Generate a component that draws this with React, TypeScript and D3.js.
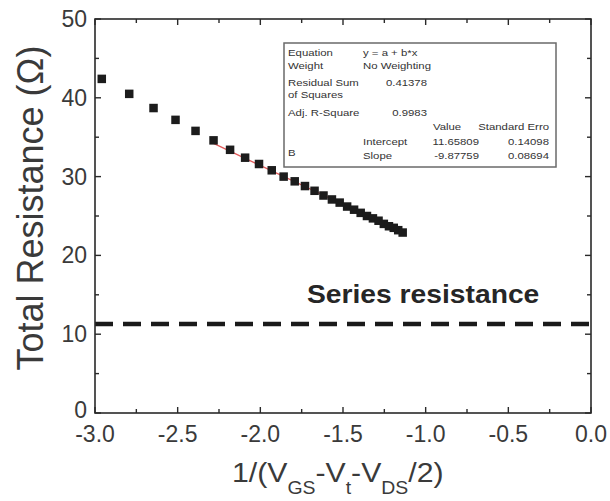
import React from 'react';
import * as d3 from 'd3';

const xValues = [-2.959, -2.793, -2.646, -2.513, -2.392, -2.283, -2.183, -2.092, -2.008, -1.931, -1.859, -1.792, -1.730, -1.672, -1.618, -1.567, -1.520, -1.475, -1.433, -1.393, -1.355, -1.319, -1.285, -1.253, -1.222, -1.193, -1.166, -1.139];
const yValues = [42.4, 40.5, 38.7, 37.2, 35.8, 34.6, 33.4, 32.4, 31.6, 30.8, 30.0, 29.4, 28.8, 28.2, 27.6, 27.1, 26.7, 26.2, 25.8, 25.4, 25.0, 24.7, 24.4, 24.0, 23.7, 23.5, 23.2, 22.9];
const fitIntercept = 11.65809;
const fitSlope = -9.87759;
const fitStart = -2.283;
const fitEnd = -1.139;
const seriesResistance = 11.3;
const seriesLabel = 'Series resistance';
const xTickValues = [-3.0, -2.5, -2.0, -1.5, -1.0, -0.5, 0.0];
const xMinorTicks = [-2.75, -2.25, -1.75, -1.25, -0.75, -0.25];
const yTickValues = [0, 10, 20, 30, 40, 50];
const yMinorTicks = [5, 15, 25, 35, 45];
const yTitle = 'Total Resistance (Ω)';

const tableLeft = ['Equation', 'Weight', 'Residual Sum', 'of Squares', 'Adj. R-Square', 'B'];
const tableMid = ['y = a + b*x', 'No Weighting', 'Intercept', 'Slope'];
const tableStats = ['0.41378', '0.9983'];
const tableHeader = ['Value', 'Standard Erro'];
const tableValues = ['11.65809', '-9.87759'];
const tableErrors = ['0.14098', '0.08694'];

const FONT = '"Liberation Sans", Arial, Helvetica, sans-serif';

function T({ x, y, size, sx = 1, anchor = 'start', weight = 'normal', fill = '#333', children }: any) {
  return (
    <text
      transform={`translate(${x},${y}) scale(${sx},1)`}
      fontSize={size}
      fontFamily={FONT}
      fontWeight={weight}
      textAnchor={anchor}
      fill={fill}
    >
      {children}
    </text>
  );
}

export default function App() {
  const W = 610, H = 501;
  const x = d3.scaleLinear().domain([-3, 0]).range([95, 591]);
  const y = d3.scaleLinear().domain([0, 50]).range([413, 19]);
  const [x0, x1] = x.range();
  const [y0, y1] = y.range();
  const axisColor = '#2a2a2a';
  const textColor = '#3a3a3a';
  const majorLen = 6;
  const minorLen = 4;

  const fitLine = d3.line<number>()
    .x((d) => x(d))
    .y((d) => y(fitIntercept + fitSlope * d))([fitStart, fitEnd]);

  const sq = 8.5;

  const tb = { x: 284, y: 43, w: 272, h: 124 };
  const rowY = [56, 69, 86, 98, 116, 156];
  const midY = [56, 69, 145, 159];
  const statY = [86, 116];
  const fs = 9.8;
  const tsx = 1.16;

  return (
    <svg width={W} height={H} style={{ position: 'absolute', left: 0, top: 0, background: '#fff' }}>
      <rect x={0} y={0} width={W} height={H} fill="#fff" />
      <path d={fitLine || ''} stroke="#e25a5a" strokeWidth={1.3} fill="none" />
      {xValues.map((xv, i) => (
        <rect key={i} x={x(xv) - sq / 2} y={y(yValues[i]) - sq / 2} width={sq} height={sq} fill="#1c1c1c" />
      ))}
      <line x1={x0} x2={x1 + 6} y1={y(seriesResistance)} y2={y(seriesResistance)} stroke="#1a1a1a" strokeWidth={4.5} strokeDasharray="18,10" />
      <T x={307} y={303} size={25} sx={1.13} weight="bold" fill="#262626">{seriesLabel}</T>

      <rect x={x0} y={y1} width={x1 - x0} height={y0 - y1} fill="none" stroke={axisColor} strokeWidth={1.6} />
      {xTickValues.map((t) => (
        <g key={'xt' + t}>
          <line x1={x(t)} x2={x(t)} y1={y0} y2={y0 - majorLen} stroke={axisColor} strokeWidth={1.4} />
          <line x1={x(t)} x2={x(t)} y1={y1} y2={y1 + majorLen} stroke={axisColor} strokeWidth={1.4} />
          <T x={x(t)} y={442} size={23} anchor="middle" fill={textColor}>{t.toFixed(1)}</T>
        </g>
      ))}
      {xMinorTicks.map((t) => (
        <g key={'xm' + t}>
          <line x1={x(t)} x2={x(t)} y1={y0} y2={y0 - minorLen} stroke={axisColor} strokeWidth={1.4} />
          <line x1={x(t)} x2={x(t)} y1={y1} y2={y1 + minorLen} stroke={axisColor} strokeWidth={1.4} />
        </g>
      ))}
      {yTickValues.map((t) => (
        <g key={'yt' + t}>
          <line x1={x0} x2={x0 + majorLen} y1={y(t)} y2={y(t)} stroke={axisColor} strokeWidth={1.4} />
          <line x1={x1} x2={x1 - majorLen} y1={y(t)} y2={y(t)} stroke={axisColor} strokeWidth={1.4} />
          <T x={87} y={y(t) + (t === 0 ? 5 : 8)} size={23} anchor="end" fill={textColor}>{String(t)}</T>
        </g>
      ))}
      {yMinorTicks.map((t) => (
        <g key={'ym' + t}>
          <line x1={x0} x2={x0 + minorLen} y1={y(t)} y2={y(t)} stroke={axisColor} strokeWidth={1.4} />
          <line x1={x1} x2={x1 - minorLen} y1={y(t)} y2={y(t)} stroke={axisColor} strokeWidth={1.4} />
        </g>
      ))}

      <text transform="translate(232,482) scale(1.08,1)" fontFamily={FONT} fontSize={28} fill={textColor}>
        <tspan>1/(V</tspan>
        <tspan fontSize={18} dy={12}>GS</tspan>
        <tspan dy={-12}>-V</tspan>
        <tspan fontSize={18} dy={12}>t</tspan>
        <tspan dy={-12}>-V</tspan>
        <tspan fontSize={18} dy={12}>DS</tspan>
        <tspan dy={-12}>/2)</tspan>
      </text>
      <text transform="translate(43,208) rotate(-90)" fontFamily={FONT} fontSize={36} textAnchor="middle" fill={textColor}>{yTitle}</text>

      <rect x={tb.x} y={tb.y} width={tb.w} height={tb.h} fill="#fff" stroke="#6a6a6a" strokeWidth={1.5} />
      {tableLeft.map((s, i) => (
        <T key={'tl' + i} x={288} y={rowY[i]} size={fs} sx={tsx}>{s}</T>
      ))}
      {tableMid.map((s, i) => (
        <T key={'tm' + i} x={363} y={midY[i]} size={fs} sx={tsx}>{s}</T>
      ))}
      {tableStats.map((s, i) => (
        <T key={'ts' + i} x={427} y={statY[i]} size={fs} sx={tsx} anchor="end">{s}</T>
      ))}
      <T x={447} y={130} size={fs} sx={tsx} anchor="middle">{tableHeader[0]}</T>
      <T x={549} y={130} size={fs} sx={tsx} anchor="end">{tableHeader[1]}</T>
      {tableValues.map((s, i) => (
        <T key={'tv' + i} x={479} y={[145, 159][i]} size={fs} sx={tsx} anchor="end">{s}</T>
      ))}
      {tableErrors.map((s, i) => (
        <T key={'te' + i} x={549} y={[145, 159][i]} size={fs} sx={tsx} anchor="end">{s}</T>
      ))}
    </svg>
  );
}
